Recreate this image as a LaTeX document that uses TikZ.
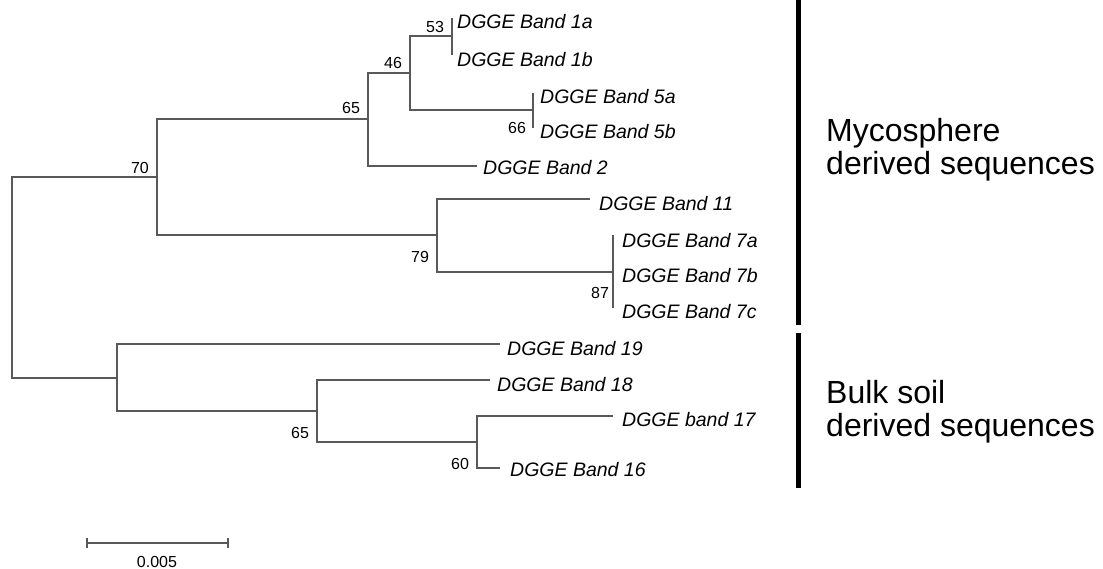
\documentclass[tikz,border=0pt]{standalone}
\usepackage{fontspec}
\setmainfont{Liberation Sans}
\begin{document}
\begin{tikzpicture}[x=1pt,y=-1pt,
  branch/.style={draw=black!65,line width=1.3pt},
  leaf/.style={anchor=west,inner sep=0pt,font=\fontsize{19.5}{22}\selectfont\itshape},
  boot/.style={inner sep=0pt,font=\fontsize{16}{18}\selectfont},
  group/.style={anchor=west,inner sep=0pt,align=left,font=\fontsize{32}{33}\selectfont},
  bar/.style={draw=black,line width=5pt}]
\useasboundingbox (0,0) rectangle (1103,569);
% internal nodes
\coordinate (root) at (12,277);
\coordinate (n70) at (157,177);
\coordinate (n65) at (368,119);
\coordinate (n46) at (410,73);
\coordinate (n53) at (452,36);
\coordinate (n66) at (533,110);
\coordinate (n79) at (437,235);
\coordinate (n87) at (613,272);
\coordinate (nB) at (117,378);
\coordinate (n65b) at (317,411);
\coordinate (n60) at (477,442);
% leaves
\coordinate (l1a) at (452,18);
\coordinate (l1b) at (452,55);
\coordinate (l5a) at (533,93);
\coordinate (l5b) at (533,128);
\coordinate (l2) at (477,166);
\coordinate (l11) at (590,199);
\coordinate (l7a) at (613,235);
\coordinate (l7b) at (613,272);
\coordinate (l7c) at (613,308);
\coordinate (l19) at (500,344);
\coordinate (l18) at (490,380);
\coordinate (l17) at (613,416);
\coordinate (l16) at (500,468);
% branches
\draw[branch] (root) |- (n70);
\draw[branch] (root) |- (nB);
\draw[branch] (n70) |- (n65);
\draw[branch] (n70) |- (n79);
\draw[branch] (n65) |- (n46);
\draw[branch] (n65) |- (l2);
\draw[branch] (n46) |- (n53);
\draw[branch] (n46) |- (n66);
\draw[branch] (n53) |- (l1a);
\draw[branch] (n53) |- (l1b);
\draw[branch] (n66) |- (l5a);
\draw[branch] (n66) |- (l5b);
\draw[branch] (n79) |- (l11);
\draw[branch] (n79) |- (n87);
\draw[branch] (n87) |- (l7a);
\draw[branch] (n87) |- (l7b);
\draw[branch] (n87) |- (l7c);
\draw[branch] (nB) |- (l19);
\draw[branch] (nB) |- (n65b);
\draw[branch] (n65b) |- (l18);
\draw[branch] (n65b) |- (n60);
\draw[branch] (n60) |- (l17);
\draw[branch] (n60) |- (l16);
% leaf labels
\node[leaf] (t1a) at (457,22) {DGGE Band 1a};
\node[leaf] (t1b) at (457,60) {DGGE Band 1b};
\node[leaf] (t5a) at (540,97) {DGGE Band 5a};
\node[leaf] (t5b) at (540,132) {DGGE Band 5b};
\node[leaf] (t2) at (483,168) {DGGE Band 2};
\node[leaf] (t11) at (599,204) {DGGE Band 11};
\node[leaf] (t7a) at (622,241) {DGGE Band 7a};
\node[leaf] (t7b) at (622,276) {DGGE Band 7b};
\node[leaf] (t7c) at (622,312) {DGGE Band 7c};
\node[leaf] (t19) at (507,349) {DGGE Band 19};
\node[leaf] (t18) at (497,385) {DGGE Band 18};
\node[leaf] (t17) at (622,420) {DGGE band 17};
\node[leaf] (t16) at (510,470) {DGGE Band 16};
% bootstrap values
\node[boot] (b70) at (140,168) {70};
\node[boot] (b65) at (351,108) {65};
\node[boot] (b46) at (393,63) {46};
\node[boot] (b53) at (435,27) {53};
\node[boot] (b66) at (517,128) {66};
\node[boot] (b79) at (420,257) {79};
\node[boot] (b87) at (600,293) {87};
\node[boot] (b65b) at (300,433) {65};
\node[boot] (b60) at (460,464) {60};
% group bars and labels
\coordinate (g1t) at (798,0);
\coordinate (g1b) at (798,325);
\coordinate (g2t) at (798,333);
\coordinate (g2b) at (798,488);
\draw[bar] (g1t) -- (g1b);
\draw[bar] (g2t) -- (g2b);
\node[group] (myco) at (826,150) {Mycosphere\\derived sequences};
\node[group] (bulk) at (826,412) {Bulk soil\\derived sequences};
% scale bar
\coordinate (s1) at (87,543);
\coordinate (s2) at (228,543);
\draw[branch] (s1) -- (s2);
\draw[branch] ([yshift=5pt]s1) -- ([yshift=-5pt]s1);
\draw[branch] ([yshift=5pt]s2) -- ([yshift=-5pt]s2);
\node[boot] (scale) at (157,562) {0.005};
\end{tikzpicture}
\end{document}
